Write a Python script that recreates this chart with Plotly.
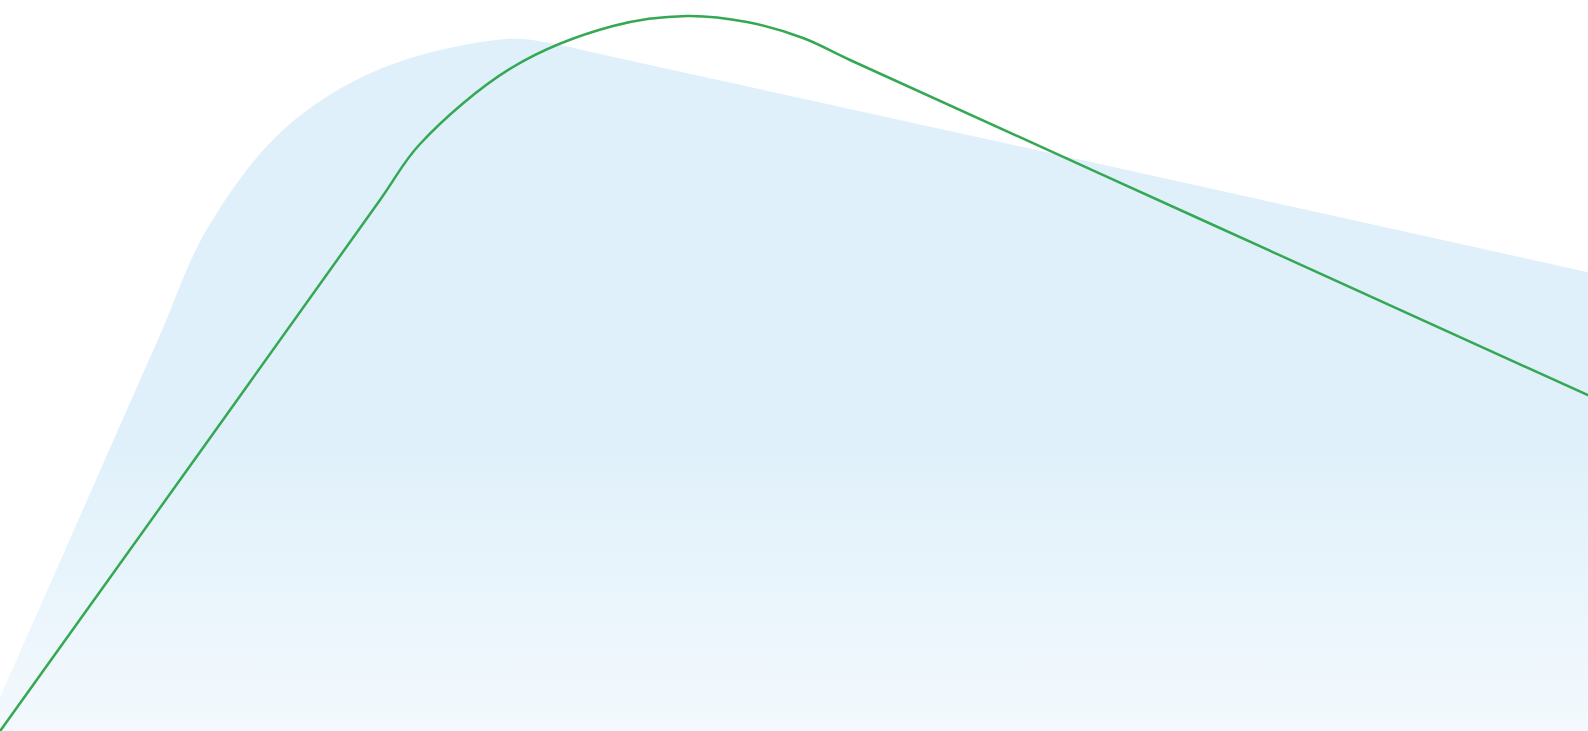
import plotly.graph_objects as go

# Canvas extent (x to the right, y upward from the bottom edge)
x_range = [0, 1588]
y_range = [0, 731]

area_x = [-60, 100, 160, 207, 283, 380, 507, 555, 600, 1000, 1700]
area_screen_y = [833, 471, 335, 229, 130, 69, 39, 44, 54, 142, 297]

line_x = [-50, 200, 380, 420, 513, 613, 687, 747, 803, 850, 1200, 1700]
line_screen_y = [801, 452, 200, 144, 67, 26, 16, 22, 38, 60, 219, 446]

area_y = [y_range[1] - v for v in area_screen_y]
line_y = [y_range[1] - v for v in line_screen_y]

fig = go.Figure()
fig.add_trace(go.Scatter(
    x=area_x, y=area_y, mode="lines",
    line=dict(width=0, shape="spline", smoothing=1),
    fill="tozeroy",
    fillgradient=dict(type="vertical", start=0, stop=731,
                      colorscale=[[0, "#f3f9fd"], [0.4, "#dff0fa"], [1, "#dff0fa"]]),
    hoverinfo="skip", showlegend=False,
))
fig.add_trace(go.Scatter(
    x=line_x, y=line_y, mode="lines",
    line=dict(color="#34a853", width=2.5, shape="spline", smoothing=1),
    hoverinfo="skip", showlegend=False,
))
fig.update_layout(
    width=1588, height=731,
    margin=dict(l=0, r=0, t=0, b=0, pad=0),
    paper_bgcolor="white", plot_bgcolor="white",
    xaxis=dict(range=x_range, visible=False, fixedrange=True),
    yaxis=dict(range=y_range, visible=False, fixedrange=True),
    hovermode=False,
)
fig.write_html("out.html", config={"displayModeBar": False, "staticPlot": True},
               post_script="document.body.style.margin='0';document.body.style.overflow='hidden';")
